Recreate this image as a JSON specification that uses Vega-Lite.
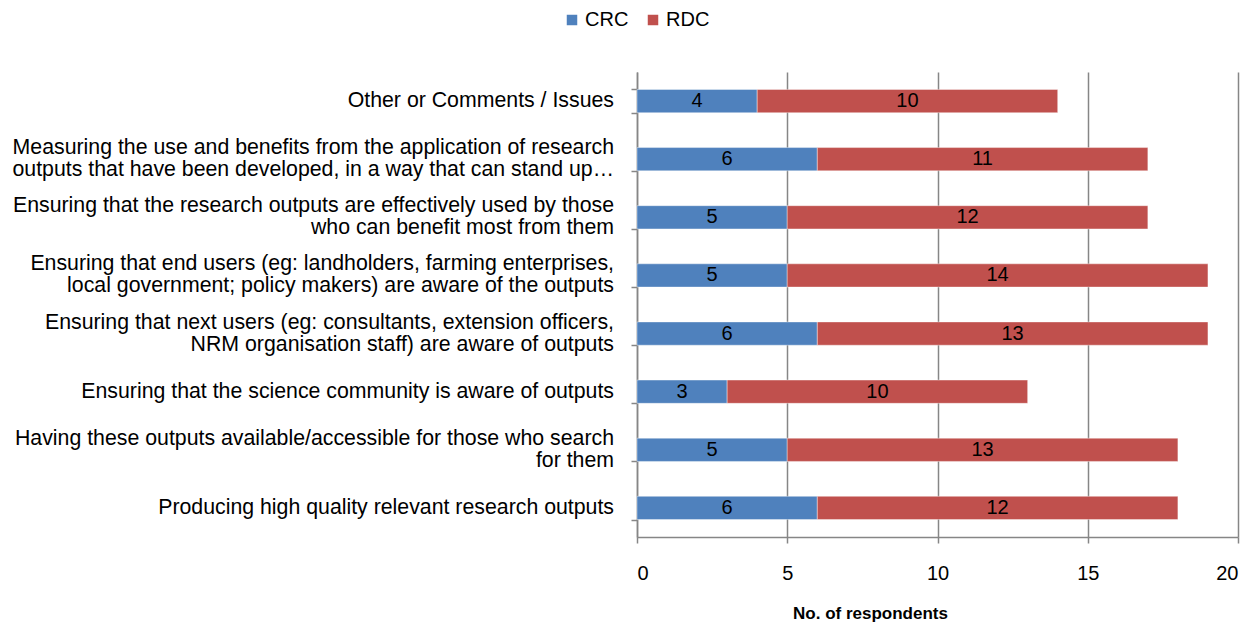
{
  "$schema": "https://vega.github.io/schema/vega-lite/v6.json",
  "autosize": {"type": "none"},
  "width": 601,
  "height": 465,
  "padding": {"left": 637, "top": 72, "right": 14, "bottom": 87},
  "background": "white",
  "config": {
    "view": {"stroke": null},
    "font": "Liberation Sans",
    "axis": {"labelFont": "Liberation Sans", "titleFont": "Liberation Sans"}
  },
  "data": {
    "values": [
      {"cat": "Other or Comments / Issues ", "series": "CRC", "value": 4},
      {"cat": "Other or Comments / Issues ", "series": "RDC", "value": 10},
      {"cat": "Measuring the use and benefits from the application of research|outputs that have been developed, in a way that can stand up…", "series": "CRC", "value": 6},
      {"cat": "Measuring the use and benefits from the application of research|outputs that have been developed, in a way that can stand up…", "series": "RDC", "value": 11},
      {"cat": "Ensuring that the research outputs are effectively used by those|who can benefit most from them", "series": "CRC", "value": 5},
      {"cat": "Ensuring that the research outputs are effectively used by those|who can benefit most from them", "series": "RDC", "value": 12},
      {"cat": "Ensuring that end users (eg: landholders, farming enterprises,|local government; policy makers) are aware of the outputs", "series": "CRC", "value": 5},
      {"cat": "Ensuring that end users (eg: landholders, farming enterprises,|local government; policy makers) are aware of the outputs", "series": "RDC", "value": 14},
      {"cat": "Ensuring that next users (eg: consultants, extension officers,|NRM organisation staff) are aware of outputs", "series": "CRC", "value": 6},
      {"cat": "Ensuring that next users (eg: consultants, extension officers,|NRM organisation staff) are aware of outputs", "series": "RDC", "value": 13},
      {"cat": "Ensuring that the science community is aware of outputs", "series": "CRC", "value": 3},
      {"cat": "Ensuring that the science community is aware of outputs", "series": "RDC", "value": 10},
      {"cat": "Having these outputs available/accessible for those who search|for them", "series": "CRC", "value": 5},
      {"cat": "Having these outputs available/accessible for those who search|for them", "series": "RDC", "value": 13},
      {"cat": "Producing high quality relevant research outputs", "series": "CRC", "value": 6},
      {"cat": "Producing high quality relevant research outputs", "series": "RDC", "value": 12}
    ]
  },
  "encoding": {
    "y": {
      "field": "cat",
      "type": "nominal",
      "sort": null,
      "scale": {"paddingInner": 0.6, "paddingOuter": 0.3},
      "axis": {
        "title": null,
        "labels": false,
        "tickBand": "extent",
        "tickSize": 6,
        "tickColor": "#868686",
        "domainColor": "#868686",
        "tickWidth": 1.5,
        "domainWidth": 1.5
      }
    }
  },
  "layer": [
    {
      "mark": {"type": "bar", "stroke": "#ffffff", "strokeOpacity": 0.5, "strokeWidth": 0.8},
      "encoding": {
        "x": {
          "field": "value",
          "type": "quantitative",
          "stack": "zero",
          "scale": {"domain": [0, 20], "nice": false},
          "axis": {
            "title": "No. of respondents",
            "titleFontSize": 17,
            "titleFontWeight": "bold",
            "titleColor": "#000000",
            "titlePadding": 22,
            "titleX": 233,
            "values": [0, 5, 10, 15, 20],
            "labelFontSize": 20,
            "labelColor": "#000000",
            "labelPadding": 20,
            "tickSize": 6,
            "tickColor": "#868686",
            "domainColor": "#868686",
            "tickWidth": 1.5,
            "domainWidth": 1.5,
            "grid": true,
            "gridColor": "#868686",
            "gridWidth": 1.5
          }
        },
        "color": {
          "field": "series",
          "type": "nominal",
          "scale": {"domain": ["CRC", "RDC"], "range": ["#4F81BD", "#C0504D"]},
          "legend": {
            "title": null,
            "orient": "none",
            "direction": "horizontal",
            "legendX": -75,
            "legendY": -62,
            "symbolType": "square",
            "symbolSize": 110,
            "symbolStrokeWidth": 0,
            "labelFontSize": 20,
            "labelColor": "#000000",
            "columnPadding": 14,
            "labelOffset": 3
          }
        }
      }
    },
    {
      "mark": {"type": "text", "fontSize": 20, "color": "#000000", "baseline": "middle"},
      "encoding": {
        "x": {"field": "value", "type": "quantitative", "stack": "zero", "bandPosition": 0.5},
        "detail": {"field": "series"},
        "text": {"field": "value", "type": "quantitative"}
      }
    },
    {
      "transform": [{"filter": "datum.series == 'CRC' && indexof(datum.cat, '|') < 0"}],
      "mark": {"type": "text", "align": "right", "baseline": "middle", "dx": -23, "fontSize": 21.3, "color": "#000000", "lineBreak": "|", "lineHeight": 22},
      "encoding": {
        "x": {"datum": 0, "type": "quantitative"},
        "text": {"field": "cat", "type": "nominal"}
      }
    },
    {
      "transform": [{"filter": "datum.series == 'CRC' && indexof(datum.cat, '|') >= 0"}],
      "mark": {"type": "text", "align": "right", "baseline": "middle", "dx": -23, "dy": -11, "fontSize": 21.3, "color": "#000000", "lineBreak": "|", "lineHeight": 22},
      "encoding": {
        "x": {"datum": 0, "type": "quantitative"},
        "text": {"field": "cat", "type": "nominal"}
      }
    }
  ]
}
